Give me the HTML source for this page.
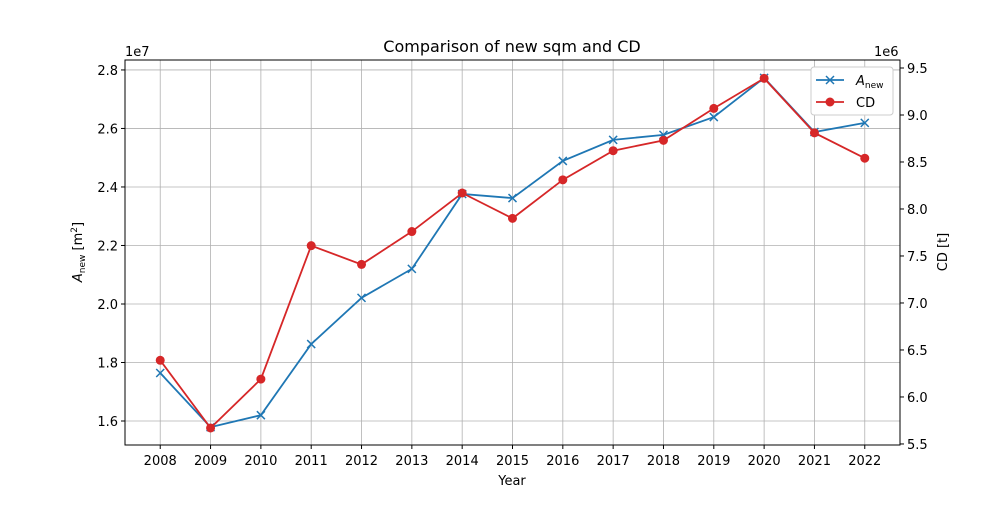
<!DOCTYPE html>
<html><head><meta charset="utf-8"><style>
body{margin:0;background:#fff;font-family:"Liberation Sans","DejaVu Sans",sans-serif}
svg text{font-family:"DejaVu Sans","Liberation Sans",sans-serif;fill:#000}
</style></head><body>
<svg id="c" width="1000" height="500"></svg>
<script>
const years=[2008,2009,2010,2011,2012,2013,2014,2015,2016,2017,2018,2019,2020,2021,2022];
const aNew=[1.764,1.579,1.620,1.863,2.021,2.120,2.376,2.362,2.489,2.561,2.578,2.639,2.773,2.588,2.619];
const cd=[6.39,5.67,6.19,7.61,7.41,7.76,8.17,7.90,8.31,8.62,8.73,9.07,9.39,8.81,8.54];
const leftTicks=[1.6,1.8,2.0,2.2,2.4,2.6,2.8];
const rightTicks=[5.5,6.0,6.5,7.0,7.5,8.0,8.5,9.0,9.5];
const L=125,R=900,T=60,B=445;
const xs=v=>L+(v-2007.3)/(2022.7-2007.3)*(R-L);
const yl=v=>B-(v-1.518)/(2.834-1.518)*(B-T);
const yr=v=>B-(v-5.489)/(9.585-5.489)*(B-T);
const svg=document.getElementById('c');const NS='http://www.w3.org/2000/svg';
function el(t,a,p){const e=document.createElementNS(NS,t);for(const k in a)e.setAttribute(k,a[k]);(p||svg).appendChild(e);return e;}
function txt(x,y,s,a){const e=el('text',Object.assign({x:x,y:y,'font-size':13},a||{}));e.textContent=s;return e;}
years.forEach(y=>{const g=el('line',{x1:xs(y),x2:xs(y),y1:T,y2:B,stroke:'#b0b0b0','stroke-width':0.8});

el('line',{x1:xs(y),x2:xs(y),y1:B,y2:B+4,stroke:'#000'});
const t=txt(xs(y),B+20,String(y),{'text-anchor':'middle'});});
leftTicks.forEach(v=>{const g=el('line',{x1:L,x2:R,y1:yl(v),y2:yl(v),stroke:'#b0b0b0','stroke-width':0.8});

el('line',{x1:L-4,x2:L,y1:yl(v),y2:yl(v),stroke:'#000'});
const t=txt(L-7,yl(v)+5,v.toFixed(1),{'text-anchor':'end'});});
rightTicks.forEach(v=>{el('line',{x1:R,x2:R+4,y1:yr(v),y2:yr(v),stroke:'#000'});
const t=txt(R+7,yr(v)+5,v.toFixed(1));});
const fr=el('rect',{x:L,y:T,width:R-L,height:B-T,fill:'none',stroke:'#000','stroke-width':1});

const bl=el('polyline',{points:years.map((y,i)=>xs(y)+','+yl(aNew[i])).join(' '),fill:'none',stroke:'#1f77b4','stroke-width':1.8});

years.forEach((y,i)=>{const x=xs(y),v=yl(aNew[i]);const p=el('path',{d:`M${x-4},${v-4}L${x+4},${v+4}M${x-4},${v+4}L${x+4},${v-4}`,stroke:'#1f77b4','stroke-width':1.5});
});
const rl=el('polyline',{points:years.map((y,i)=>xs(y)+','+yr(cd[i])).join(' '),fill:'none',stroke:'#d62728','stroke-width':1.8});

years.forEach((y,i)=>{const c=el('circle',{cx:xs(y),cy:yr(cd[i]),r:4.5,fill:'#d62728'});
});
let t;
t=txt(512,52,'Comparison of new sqm and CD',{'text-anchor':'middle','font-size':16});
t=txt(125,56,'1e7');
t=txt(874,56,'1e6');
t=txt(512,485,'Year',{'text-anchor':'middle'});
t=el('text',{x:0,y:0,'font-size':13,transform:'translate(82,252) rotate(-90)','text-anchor':'middle'});
t.innerHTML='<tspan font-style="italic">A</tspan><tspan font-size="9" dy="3">new</tspan><tspan dy="-3"> [m</tspan><tspan font-size="9" dy="-5">2</tspan><tspan dy="5">]</tspan>';

t=txt(0,0,'CD [t]',{transform:'translate(947,252) rotate(-90)','text-anchor':'middle'});
const lg=el('g',{});
el('rect',{x:811,y:67,width:82,height:48,fill:'#fff',stroke:'#ccc',rx:3},lg);
el('line',{x1:816,x2:844,y1:80,y2:80,stroke:'#1f77b4','stroke-width':1.8},lg);
el('path',{d:'M826,76L834,84M826,84L834,76',stroke:'#1f77b4','stroke-width':1.5},lg);
t=el('text',{x:856,y:85,'font-size':13},lg);t.innerHTML='<tspan font-style="italic">A</tspan><tspan font-size="9" dy="3">new</tspan>';

el('line',{x1:816,x2:844,y1:102,y2:102,stroke:'#d62728','stroke-width':1.8},lg);
el('circle',{cx:830,cy:102,r:4.5,fill:'#d62728'},lg);
t=el('text',{x:856,y:107,'font-size':13},lg);t.textContent='CD';

</script></body></html>
